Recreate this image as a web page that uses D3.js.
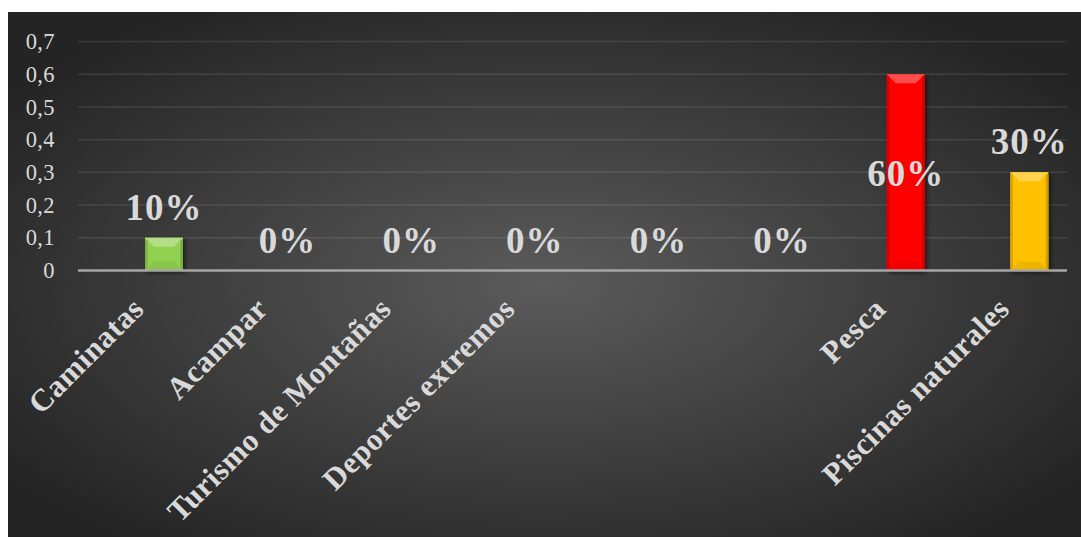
<!DOCTYPE html>
<html>
<head>
<meta charset="utf-8">
<script src="https://cdn.jsdelivr.net/npm/d3@7"></script>
<style>
  body { margin: 0; background: #fff; }
  svg { display: block; }
</style>
</head>
<body>
<svg class="chart"></svg>
<script>
// data
const categories = ['Caminatas', 'Acampar', 'Turismo de Montañas', 'Deportes extremos', '', '', 'Pesca', 'Piscinas naturales'];
const values = [0.1, 0, 0, 0, 0, 0, 0.6, 0.3];
const barColors = ['#92d050', '#92d050', '#92d050', '#92d050', '#92d050', '#92d050', '#ff0000', '#ffc000'];
const yTicks = [0, 0.1, 0.2, 0.3, 0.4, 0.5, 0.6, 0.7];

function chart(){
    const svg = d3.select('.chart')
    .attr('width', 1081)
    .attr('height', 538)
    const width = +svg.attr('width');
    const height = +svg.attr('height');

    const margin = {top: 41.5, right: 14, bottom: 267.5, left: 78}
    const innerWidth = width - margin.left - margin.right;
    const innerHeight = height - margin.top - margin.bottom;

    const defs = svg.append('defs')

    //background gradient
    const bg = defs.append('radialGradient')
    .attr('id', 'bg')
    .attr('cx', '50%').attr('cy', '52%').attr('r', '62%')
    bg.append('stop').attr('offset', '0%').attr('stop-color', '#5b5b5b')
    bg.append('stop').attr('offset', '100%').attr('stop-color', '#242424')

    const shadow = defs.append('filter')
    .attr('id', 'shadow')
    .attr('x', '-30%').attr('y', '-30%').attr('width', '160%').attr('height', '160%')
    shadow.append('feDropShadow')
    .attr('dx', 2).attr('dy', 2).attr('stdDeviation', 2)
    .attr('flood-color', '#000').attr('flood-opacity', 0.55)

    svg.append('rect')
    .attr('x', 8).attr('y', 12)
    .attr('width', width - 8).attr('height', height - 13)
    .attr('fill', 'url(#bg)')

    const g = svg.append('g')
    .attr('transform', `translate(${margin.left}, ${margin.top})`)

    //scale
    const xScale = d3.scaleBand()
                     .domain(d3.range(categories.length))
                     .range([0, innerWidth])
                     .padding(0)

    const yScale = d3.scaleLinear()
                     .domain([0, 0.7])
                     .range([innerHeight, 0])

    //grid
    g.append('g')
     .selectAll('line')
     .data(yTicks.filter(d => d > 0))
     .join('line')
     .attr('x1', 0).attr('x2', innerWidth)
     .attr('y1', d => yScale(d)).attr('y2', d => yScale(d))
     .attr('stroke', '#ffffff')
     .attr('stroke-opacity', 0.1)
     .attr('stroke-width', 1.5)

    //y axis
    const yAxis = d3.axisLeft(yScale)
                    .tickValues(yTicks)
                    .tickSize(0)
                    .tickPadding(23)
                    .tickFormat(d => d === 0 ? '0' : d3.format('.1f')(d).replace('.', ','))
    const yAxisG = g.append('g').call(yAxis)
    yAxisG.select('.domain').remove()
    yAxisG.selectAll('text')
          .attr('fill', '#d9d9d9')
          .attr('font-family', '"Liberation Serif", serif')
          .attr('font-size', 22.5)
          .attr('letter-spacing', 0.4)
          .attr('dy', '0.32em')

    //x axis
    const xAxis = d3.axisBottom(xScale)
                    .tickSize(0)
                    .tickFormat(i => categories[i])
    const xAxisG = g.append('g')
    .attr('transform', 'translate(0,' + innerHeight + ')')
    .call(xAxis)
    xAxisG.select('.domain').remove()
    xAxisG.selectAll('text')
          .attr('y', 0).attr('dy', 0)
          .attr('transform', 'translate(6,40) rotate(-45)')
          .attr('text-anchor', 'end')
          .attr('fill', '#d9d9d9')
          .attr('font-family', '"Liberation Serif", serif')
          .attr('font-weight', 'bold')
          .attr('font-size', 31)
          .attr('letter-spacing', 0.6)

    //bars
    const bw = xScale.bandwidth()
    const barX = i => xScale(i) + bw * 0.542
    const barW = bw * 0.307
    const lighten = (c, t) => d3.interpolateRgb(c, '#ffffff')(t)
    const darken = (c, t) => d3.interpolateRgb(c, '#000000')(t)

    const bars = g.append('g')
    .selectAll('g')
    .data(values.map((v, i) => ({v, i})).filter(d => d.v > 0))
    .join('g')
    .attr('filter', 'url(#shadow)')

    bars.append('rect')
        .attr('x', d => barX(d.i))
        .attr('y', d => yScale(d.v))
        .attr('width', barW)
        .attr('height', d => yScale(0) - yScale(d.v))
        .attr('fill', d => barColors[d.i])

    // bevel: top, bottom, sides
    bars.append('polygon')
        .attr('points', d => {
            const x = barX(d.i), y = yScale(d.v), w = barW
            const b = Math.min(9, (yScale(0) - y) / 2)
            return [[x, y], [x + w, y], [x + w - b, y + b], [x + b, y + b]].join(' ')
        })
        .attr('fill', d => lighten(barColors[d.i], 0.3))
    bars.append('polygon')
        .attr('points', d => {
            const x = barX(d.i), y = yScale(0), w = barW
            const b = Math.min(9, (y - yScale(d.v)) / 2)
            return [[x, y], [x + w, y], [x + w - b, y - b], [x + b, y - b]].join(' ')
        })
        .attr('fill', d => darken(barColors[d.i], 0.06))
    bars.append('rect')
        .attr('x', d => barX(d.i))
        .attr('y', d => yScale(d.v) + 2)
        .attr('width', 2.5)
        .attr('height', d => yScale(0) - yScale(d.v) - 4)
        .attr('fill', d => darken(barColors[d.i], 0.15))
    bars.append('rect')
        .attr('x', d => barX(d.i) + barW - 2.5)
        .attr('y', d => yScale(d.v) + 2)
        .attr('width', 2.5)
        .attr('height', d => yScale(0) - yScale(d.v) - 4)
        .attr('fill', d => darken(barColors[d.i], 0.18))

    //axis line on top of bars
    g.append('line')
     .attr('x1', 0).attr('x2', innerWidth)
     .attr('y1', yScale(0)).attr('y2', yScale(0))
     .attr('stroke', '#a6a6a6')
     .attr('stroke-width', 2.5)

    //data labels, every category has one
    g.append('g')
     .selectAll('text')
     .data(values.map((v, i) => ({v, i})))
     .join('text')
     .attr('x', d => barX(d.i) + barW / 2)
     .attr('y', d => {
         // labels that would leave the plot go inside the bar
         if (yScale(d.v) - 45 < 0) return (yScale(d.v) + yScale(0)) / 2 + 14
         return yScale(d.v) - 18
     })
     .attr('text-anchor', 'middle')
     .attr('fill', '#d9d9d9')
     .attr('font-family', '"Liberation Serif", serif')
     .attr('font-weight', 'bold')
     .attr('font-size', 37)
     .attr('letter-spacing', 1)
     .text(d => d3.format('.0%')(d.v))
}
chart()
</script>
</body>
</html>
